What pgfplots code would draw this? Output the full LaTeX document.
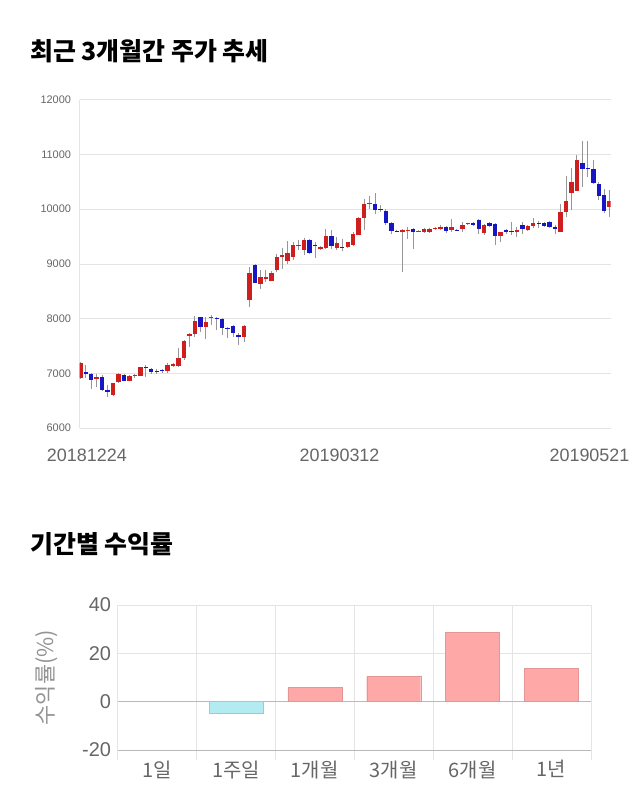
\documentclass[border=0pt]{standalone}
\usepackage{fontspec}
\setmainfont{Liberation Sans}
\newfontfamily\kr{Noto Sans CJK KR}
\usepackage{pgfplots}
\usepackage{pgfplotstable}
\pgfplotsset{compat=1.18}

\definecolor{upred}{RGB}{206,30,30}
\definecolor{downblue}{RGB}{22,22,196}
\definecolor{wick}{RGB}{150,150,150}
\definecolor{gridc}{RGB}{228,228,228}
\definecolor{posfill}{RGB}{255,168,168}
\definecolor{posdraw}{RGB}{226,150,150}
\definecolor{negfill}{RGB}{178,235,242}
\definecolor{negdraw}{RGB}{140,208,222}
\definecolor{labc}{RGB}{102,102,102}

% daily candles, 20181224 .. 20190521: index, open, high, low, close
\pgfplotstableread{
i  o     h     l     c
0  6910  7200  6890  7180
1  7020  7150  6910  6980
2  6990  7000  6720  6880
3  6900  6980  6750  6925
4  6930  6970  6680  6690
5  6700  6780  6570  6650
6  6600  6830  6580  6826
7  6833  7000  6830  6990
8  6966  6980  6850  6857
9  6863  6960  6860  6948
10 6945  6990  6920  6965
11 6954  7110  6950  7107
12 7110  7150  6935  7090
13 7076  7100  6980  7027
14 7050  7070  6990  7030
15 7060  7080  7010  7040
16 7040  7180  7000  7150
17 7140  7190  7110  7160
18 7136  7465  7120  7272
19 7272  7600  7250  7587
20 7684  7727  7483  7720
21 7715  8048  7665  7952
22 8019  8030  7757  7848
23 7848  8030  7630  7940
24 8010  8061  7879  8025
25 8015  8025  7782  8000
26 8000  8005  7696  7818
27 7825  7848  7636  7810
28 7855  7879  7654  7727
29 7696  7727  7514  7654
30 7654  7879  7575  7855
31 8347  8943  8212  8840
32 8973  8990  8640  8657
33 8627  8880  8535  8749
34 8730  8880  8660  8750
35 8687  8870  8680  8840
36 8882  9186  8851  9125
37 9125  9289  8913  9168
38 9052  9411  9004  9198
39 9125  9398  9064  9338
40 9335  9430  9247  9350
41 9260  9471  9156  9430
42 9435  9450  9180  9198
43 9340  9398  9113  9320
44 9278  9330  9260  9314
45 9296  9642  9278  9508
46 9502  9611  9278  9326
47 9296  9480  9260  9380
48 9300  9460  9230  9285
49 9302  9400  9290  9398
50 9338  9580  9330  9539
51 9533  9850  9520  9836
52 9843  10190 9611  10098
53 10090 10237 10006 10110
54 10098 10292 9916  9989
55 10000 10067 9945  9985
56 9970  9995  9703  9752
57 9739  9763  9551  9599
58 9600  9620  9580  9590
59 9575  9640  8850  9623
60 9610  9672  9460  9625
61 9630  9650  9278  9580
62 9595  9620  9580  9605
63 9580  9660  9560  9635
64 9580  9660  9560  9630
65 9645  9670  9620  9655
66 9642  9700  9610  9678
67 9678  9690  9560  9605
68 9623  9812  9580  9666
69 9615  9640  9590  9605
70 9635  9760  9580  9708
71 9730  9750  9700  9740
72 9740  9760  9690  9710
73 9806  9825  9539  9630
74 9562  9720  9530  9708
75 9745  9760  9670  9690
76 9720  9740  9350  9508
77 9502  9580  9398  9575
78 9611  9630  9540  9575
79 9590  9763  9533  9575
80 9580  9670  9480  9611
81 9708  9760  9540  9635
82 9623  9700  9600  9684
83 9697  9836  9660  9751
84 9745  9790  9660  9735
85 9739  9760  9680  9690
86 9770  9790  9650  9672
87 9672  9715  9551  9630
88 9580  10098 9580  9940
89 9940  10602 9855  10140
90 10291 10748 9976  10492
91 10335 10980 10323 10888
92 10846 11235 10402 10737
93 10750 11235 10584 10730
94 10737 10888 10462 10482
95 10450 10492 10159 10237
96 10250 10359 9927  9964
97 10037 10341 9855  10140
}\candles

\begin{document}
\begin{tikzpicture}
\path[use as bounding box] (0,0) rectangle (640bp,-810bp);

\node[anchor=base west, inner sep=0, text=black,
  font=\fontsize{25}{29}\kr\bfseries] at (30bp,-60bp) {최근 3개월간 주가 추세};
\node[anchor=base west, inner sep=0, text=black,
  font=\fontsize{25}{29}\kr\bfseries] at (30bp,-553bp) {기간별 수익률};

% price trend
\begin{axis}[
  at={(79.5bp,-428bp)}, anchor=south west,
  scale only axis, width=531bp, height=328.5bp,
  xmin=-0.15, xmax=97.15, ymin=6000, ymax=12000,
  ytick={6000,7000,...,12000}, scaled y ticks=false,
  xtick={1.2,47.5,93.3},
  xticklabels={20181224,20190312,20190521},
  ymajorgrids, major grid style={draw=gridc},
  axis lines*=left, axis line style={draw=gridc},
  tick style={draw=none},
  /pgf/number format/assume math mode=true,
  /pgf/number format/1000 sep={},
  yticklabel style={font=\fontsize{11}{13}\selectfont, text=labc, xshift=-5bp},
  xticklabel style={font=\fontsize{18}{21}\selectfont, text=labc, yshift=-17bp},
]
\addplot[draw=none, mark=none,
  error bars/.cd, y dir=minus, y explicit, error mark=none,
  error bar style={line width=0.9bp, draw=wick}]
  table[x=i, y=h, y error minus expr={\thisrow{h}-\thisrow{l}}] {\candles};
\addplot[draw=none, mark=none,
  restrict expr to domain={\thisrow{c}-\thisrow{o}}{0:100000},
  error bars/.cd, y dir=minus, y explicit, error mark=none,
  error bar style={line width=4.4bp, draw=upred}]
  table[x=i, y expr={max(\thisrow{o},\thisrow{c})},
        y error minus expr={abs(\thisrow{c}-\thisrow{o})}] {\candles};
\addplot[draw=none, mark=none,
  restrict expr to domain={\thisrow{c}-\thisrow{o}}{-100000:-0.5},
  error bars/.cd, y dir=minus, y explicit, error mark=none,
  error bar style={line width=4.4bp, draw=downblue}]
  table[x=i, y expr={max(\thisrow{o},\thisrow{c})},
        y error minus expr={abs(\thisrow{c}-\thisrow{o})}] {\candles};
\end{axis}

% returns by period
\begin{axis}[
  at={(117.5bp,-750bp)}, anchor=south west,
  scale only axis, width=473.5bp, height=145bp,
  xmin=-0.5, xmax=5.5, ymin=-20, ymax=40,
  ytick={-20,0,20,40},
  xtick={0,...,5},
  xticklabels={1일,1주일,1개월,3개월,6개월,1년},
  minor xtick={-0.5,0.5,...,5.5},
  xminorgrids, ymajorgrids,
  major grid style={draw=gridc}, minor grid style={draw=gridc},
  extra y ticks={-20,0}, extra y tick labels={},
  extra y tick style={major grid style={draw=gray!55}},
  axis line style={draw=none},
  tick align=outside, xtick pos=bottom,
  major tick length=0pt, minor tick length=10bp,
  minor tick style={draw=gridc},
  ytick style={draw=none},
  /pgf/number format/assume math mode=true,
  yticklabel style={font=\fontsize{20}{24}\selectfont, text=labc, xshift=-3bp},
  xticklabel style={font=\fontsize{20}{24}\kr, text=labc, yshift=-7bp},
  ylabel={수익률(\%)},
  every axis y label/.style={at={([xshift=-70.5bp]axis description cs:0,0.5)},
    rotate=90, anchor=center, font=\fontsize{22}{26}\kr, text=gray!85},
]
\addplot[ybar, bar shift=0pt, bar width=54bp, fill=posfill, draw=posdraw]
  coordinates {(2,5.8) (3,10.4) (4,28.6) (5,13.9)};
\addplot[ybar, bar shift=0pt, bar width=54bp, fill=negfill, draw=negdraw]
  coordinates {(1,-4.9)};
\end{axis}
\end{tikzpicture}
\end{document}
